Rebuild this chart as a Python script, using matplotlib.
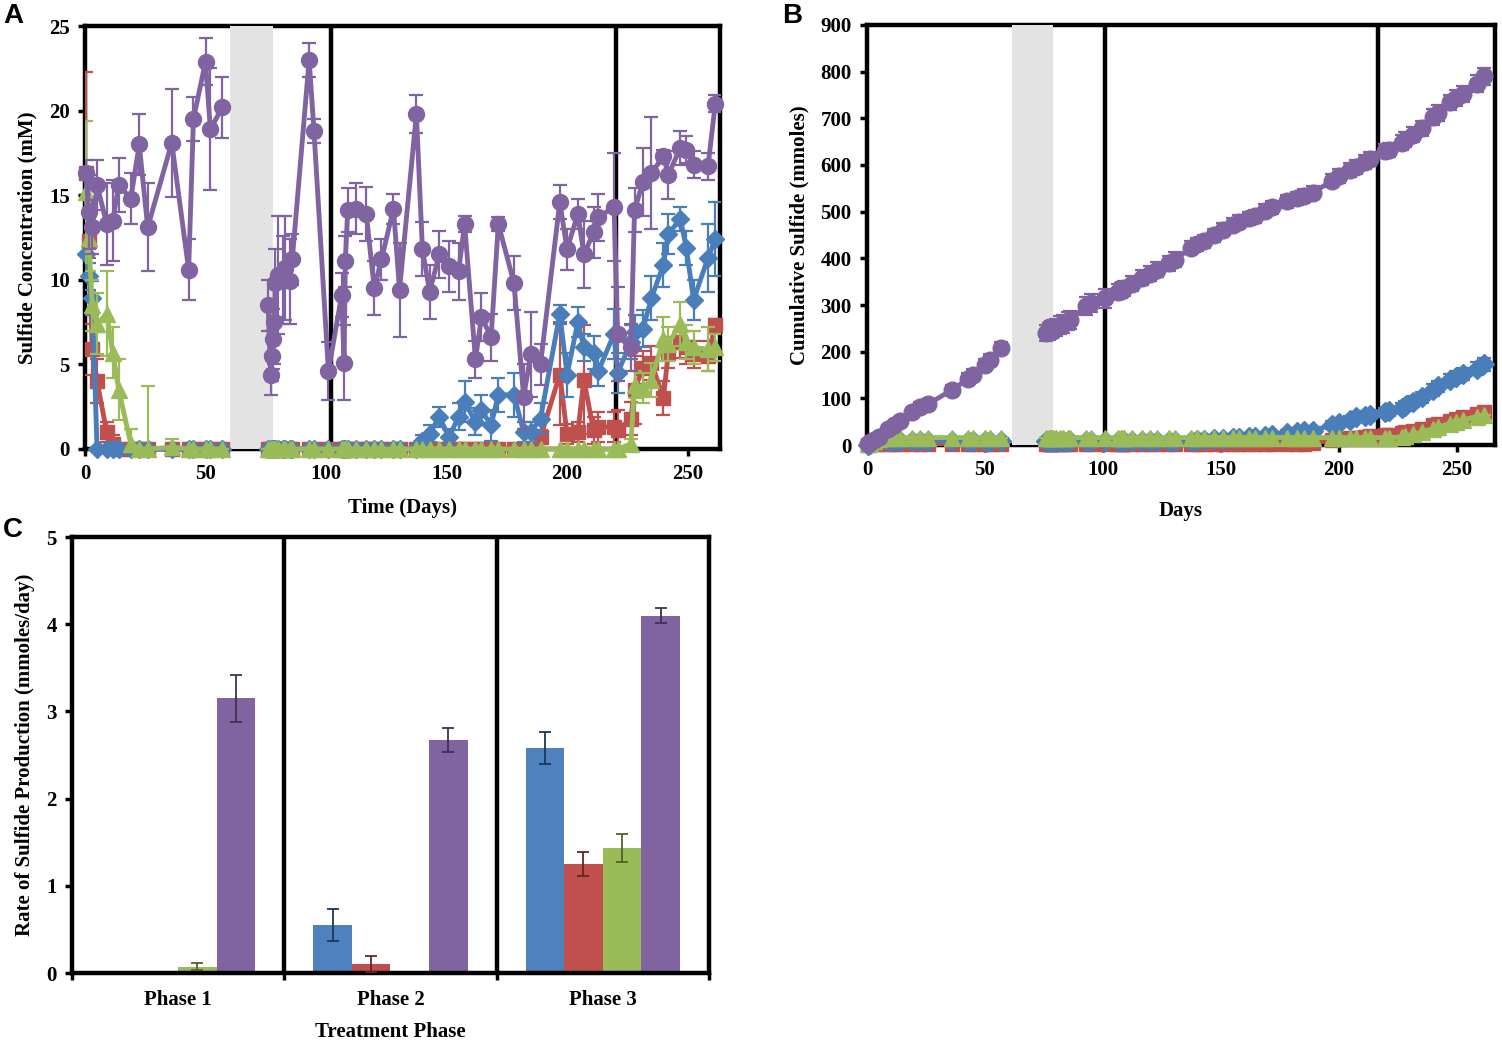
import numpy as np
import matplotlib.pyplot as plt

# ---------------- data ----------------
# Panel A: sulfide concentration (mM) vs time (days)
days_a = [0.5, 1.5, 3, 5, 9, 11.5, 14, 19, 22.5, 26, 36, 43, 45, 50, 52, 57,
          76, 77, 77.5, 78, 78.5, 79, 80, 82, 83, 85, 86, 93, 95, 101,
          106.5, 107.5, 108, 109, 112.5, 116.7, 120, 123, 128, 130.5,
          137.5, 140, 143, 147, 151, 155, 157.5, 162, 164.5, 168.5,
          171.5, 178, 182, 185, 189, 197, 200, 204.5, 207, 211,
          213, 219.5, 221, 226.5, 228, 231.5, 235, 240, 242, 247,
          249.5, 252.5, 258.5, 261.5]

purple_a = [16.3, 14.0, 13.1, 15.6, 13.3, 13.5, 15.6, 14.8, 18.0, 13.1, 18.1, 10.6, 19.5, 22.9, 18.9, 20.2,
            8.5, 4.4, 5.5, 6.5, 7.5, 9.8, 10.3, 10.0, 10.7, 9.9, 11.2, 23.0, 18.8, 4.6,
            9.1, 5.1, 11.1, 14.1, 14.2, 13.9, 9.5, 11.2, 14.2, 9.4,
            19.8, 11.8, 9.3, 11.5, 10.8, 10.5, 13.3, 5.3, 7.8, 6.6,
            13.3, 9.8, 3.1, 5.6, 5.0, 14.6, 11.8, 13.9, 11.5, 12.8,
            13.7, 14.3, 6.8, 6.0, 14.1, 15.8, 16.3, 17.3, 16.2, 17.8,
            17.7, 16.8, 16.7, 20.4]
purple_a_err = [0.8, 2.2, 1.6, 1.5, 2.4, 2.4, 1.6, 1.5, 1.8, 2.6, 3.2, 1.8, 1.3, 1.4, 3.6, 1.8,
                1.5, 1.2, 1.5, 1.8, 2.5, 2.0, 3.5, 2.6, 3.1, 2.5, 1.5, 1.0, 0.7, 1.7,
                1.3, 2.2, 1.5, 1.3, 1.5, 1.6, 1.6, 1.2, 0.9, 2.8,
                1.1, 1.6, 1.6, 1.4, 1.5, 1.7, 0.5, 1.1, 1.4, 1.4,
                0.4, 1.6, 1.9, 2.5, 1.2, 1.0, 1.2, 0.9, 2.0, 1.5,
                1.4, 3.2, 2.8, 1.4, 1.3, 2.0, 3.3, 0.4, 1.4, 1.0,
                0.8, 0.8, 0.8, 0.5]

blue_a = [11.5, 10.2, 8.9, 0, 0, 0, 0, 0, 0, 0, 0, 0, 0, 0, 0, 0,
          0, 0, 0, 0, 0, 0, 0, 0, 0, 0, 0, 0, 0, 0,
          0, 0, 0, 0, 0, 0, 0, 0, 0, 0,
          0.0, 0.5, 0.9, 1.9, 0.7, 1.9, 2.8, 1.6, 2.3, 1.4,
          3.2, 3.2, 1.0, 1.0, 1.8, 8.0, 4.4, 7.5, 6.0, 5.7,
          4.6, 6.8, 4.5, 6.3, 6.9, 7.1, 8.9, 10.9, 12.7, 13.6,
          11.9, 8.8, 11.3, 12.4]
blue_a_err = [0, 0.8, 1.0, 0, 0, 0, 0, 0, 0, 0, 0, 0, 0, 0, 0, 0,
              0, 0, 0, 0, 0, 0, 0, 0, 0, 0, 0, 0, 0, 0,
              0, 0, 0, 0, 0, 0, 0, 0, 0, 0,
              0, 0.3, 0.5, 0.6, 0.5, 0.8, 1.2, 0.8, 0.9, 0.9,
              1.0, 1.3, 0.6, 0.6, 0.9, 0.5, 1.3, 0.9, 0.8, 1.0,
              0.9, 1.5, 1.2, 1.0, 1.0, 1.1, 1.3, 1.3, 1.2, 0.7,
              1.0, 1.2, 2.0, 2.2]

red_a = [16.3, 12.3, 5.9, 4.0, 1.0, 0.3, 0, 0, 0, 0, 0, 0, 0, 0, 0, 0,
         0, 0, 0, 0, 0, 0, 0, 0, 0, 0, 0, 0, 0, 0,
         0, 0, 0, 0, 0, 0, 0, 0, 0, 0,
         0, 0, 0, 0, 0, 0, 0, 0, 0, 0,
         0, 0, 0, 0, 0.7, 4.4, 0.9, 1.0, 4.1, 1.1,
         1.3, 1.3, 1.1, 1.8, 3.5, 4.8, 5.1, 3.0, 5.7, 6.3,
         6.0, 5.6, 5.5, 7.3]
red_a_err = [6.0, 1.0, 1.5, 1.3, 0.6, 0.5, 0, 0, 0, 0, 0, 0, 0, 0, 0, 0,
             0, 0, 0, 0, 0, 0, 0, 0, 0, 0, 0, 0, 0, 0,
             0, 0, 0, 0, 0, 0, 0, 0, 0, 0,
             0, 0, 0, 0, 0, 0, 0, 0, 0, 0,
             0, 0, 0, 0, 0.4, 3.0, 0.6, 0.6, 3.2, 0.8,
             0.9, 0.9, 1.2, 1.0, 2.0, 1.0, 1.0, 1.0, 0.9, 0.9,
             1.0, 0.8, 0.9, 0.4]

green_a = [15.2, 12.5, 8.5, 7.4, 8.0, 5.7, 3.5, 0.3, 0, 0, 0.1, 0, 0, 0, 0, 0,
           0, 0, 0, 0, 0, 0, 0, 0, 0, 0, 0, 0, 0, 0,
           0, 0, 0, 0, 0, 0, 0, 0, 0, 0,
           0, 0, 0, 0, 0, 0, 0, 0, 0, 0,
           0, 0, 0, 0, 0, 0, 0, 0, 0, 0,
           0, 0, 0, 0.3, 3.8, 3.6, 4.1, 6.5, 6.2, 7.4,
           6.3, 6.0, 5.9, 6.0]
green_a_err = [4.2, 2.0, 1.5, 1.8, 2.5, 1.5, 1.8, 0.9, 0, 3.7, 0.5, 0, 0, 0, 0, 0,
               0, 0, 0, 0, 0, 0, 0, 0, 0, 0, 0, 0, 0, 0,
               0, 0, 0, 0, 0, 0, 0, 0, 0, 0,
               0, 0, 0, 0, 0, 0, 0, 0, 0, 0,
               0, 0, 0, 0, 0, 0, 0, 0, 0, 0,
               0, 0, 0, 0.3, 0.8, 0.9, 1.0, 1.3, 1.0, 1.3,
               1.0, 1.0, 1.3, 0.8]

# Panel B: cumulative sulfide (mmoles), same sampling days
purple_b = [2, 6, 11, 18, 35, 42, 51, 70, 82, 88, 118, 142, 150, 172, 182, 207,
            240, 243, 245, 247, 248, 250, 252, 257, 260, 265, 268, 298, 304, 314,
            328, 331, 333, 336, 346, 358, 367, 376, 389, 397,
            423, 430, 437, 449, 461, 472, 478, 486, 490, 502,
            509, 522, 529, 534, 541, 566, 576, 589, 596, 607,
            613, 630, 633, 648, 654, 665, 679, 703, 712, 734,
            743, 752, 774, 790]
purple_b_err = [3, 4, 5, 6, 8, 8, 9, 10, 10, 11, 11, 12, 12, 13, 13, 13,
                18, 18, 18, 18, 18, 18, 18, 19, 19, 19, 19, 20, 20, 20,
                16, 16, 16, 16, 16, 16, 16, 16, 16, 16,
                14, 14, 14, 14, 14, 14, 14, 14, 14, 14,
                14, 14, 14, 14, 14, 14, 15, 15, 15, 15,
                15, 15, 15, 16, 16, 16, 16, 17, 17, 17,
                17, 18, 18, 18]
blue_b = [1, 3, 6, 8, 9, 9, 9, 9, 9, 9, 9, 9, 9, 9, 9, 9,
          9, 9, 9, 9, 9, 9, 9, 9, 9, 9, 9, 9, 9, 9,
          9, 9, 9, 9, 9, 9, 9, 9, 9, 9,
          9, 10, 11, 12, 13, 14, 15, 17, 18, 19,
          21, 26, 28, 29, 31, 43, 47, 54, 59, 63,
          65, 70, 72, 80, 83, 93, 102, 118, 126, 140,
          146, 152, 163, 173]
blue_b_err = [0, 0, 1, 1, 1, 1, 1, 1, 1, 1, 1, 1, 1, 1, 1, 1,
              1, 1, 1, 1, 1, 1, 1, 1, 1, 1, 1, 1, 1, 1,
              1, 1, 1, 1, 1, 1, 1, 1, 1, 1,
              1, 2, 2, 3, 3, 3, 4, 4, 4, 5,
              5, 6, 6, 6, 7, 8, 8, 9, 9, 9,
              10, 10, 10, 11, 11, 11, 12, 12, 12, 13,
              13, 13, 14, 14]
red_b = [1, 2, 2, 3, 3, 3, 3, 3, 3, 3, 3, 3, 3, 3, 3, 3,
         3, 3, 3, 3, 3, 3, 3, 3, 3, 3, 3, 3, 3, 3,
         3, 3, 3, 3, 3, 3, 3, 3, 3, 3,
         3, 3, 3, 3, 3, 3, 3, 3, 3, 3,
         3, 3, 3, 3, 5, 10, 12, 14, 16, 18,
         19, 21, 22, 25, 27, 31, 35, 42, 46, 52,
         56, 59, 66, 70]
green_b = [2, 5, 9, 12, 15, 16, 16, 16, 16, 16, 16, 16, 16, 16, 16, 16,
           16, 16, 16, 16, 16, 16, 16, 16, 16, 16, 16, 16, 16, 16,
           16, 16, 16, 16, 16, 16, 16, 16, 16, 16,
           16, 16, 16, 16, 16, 16, 16, 16, 16, 16,
           16, 16, 16, 16, 16, 16, 16, 16, 16, 16,
           16, 16, 16, 17, 19, 23, 27, 35, 38, 46,
           50, 54, 61, 65]

# grey band: reactor period without sampling
band_a = (60, 78)
band_b = (61.5, 79)
phase_lines_a = [102, 220.5]
phase_lines_b = [101, 216.5]

# Panel C: rate of sulfide production (mmoles/day) per treatment phase
phases = ['Phase 1', 'Phase 2', 'Phase 3']
rate_blue = [0.0, 0.55, 2.58]
rate_blue_err = [0.0, 0.18, 0.18]
rate_red = [0.02, 0.10, 1.25]
rate_red_err = [0.0, 0.09, 0.14]
rate_green = [0.07, 0.0, 1.43]
rate_green_err = [0.04, 0.0, 0.16]
rate_purple = [3.15, 2.67, 4.10]
rate_purple_err = [0.27, 0.14, 0.09]

# ---------------- style ----------------
c_blue = '#4a7ebb'
c_red = '#c0504d'
c_green = '#9bbb59'
c_purple = '#8064a2'
plt.rcParams['font.family'] = 'Liberation Serif'
plt.rcParams['font.weight'] = 'bold'
FS = 15

fig = plt.figure(figsize=(15.02, 10.41), dpi=100)
axA = fig.add_axes([0.0566, 0.5687, 0.4228, 0.4063])
axB = fig.add_axes([0.5772, 0.5725, 0.4180, 0.4035])
axC = fig.add_axes([0.0479, 0.0653, 0.4241, 0.4188])


def frame(ax):
    for s in ax.spines.values():
        s.set_linewidth(3.2)
    ax.tick_params(direction='out', width=2.5, length=5, labelsize=FS, pad=6)
    for lab in ax.get_xticklabels() + ax.get_yticklabels():
        lab.set_fontweight('bold')


def series(ax, x, y, err, color, marker, ms, z, band):
    x = np.array(x)
    y = np.array(y, dtype=float)
    ax.errorbar(x, y, yerr=err, fmt='none', ecolor=color, elinewidth=1.6,
                capsize=5, capthick=1.6, zorder=z)
    # line is broken where sampling stopped
    for m in (x < band[0], x >= band[0]):
        ax.plot(x[m], y[m], color=color, marker=marker, markersize=ms,
                linewidth=3.5, zorder=z, clip_on=False)


# ---------------- panel A ----------------
axA.axvspan(*band_a, color='#e3e3e3', zorder=2.6, lw=0)
for d in phase_lines_a:
    axA.axvline(d, color='black', lw=3.2, zorder=1)
series(axA, days_a, red_a, red_a_err, c_red, 's', 10, 3, band_a)
series(axA, days_a, blue_a, blue_a_err, c_blue, 'D', 9, 4, band_a)
series(axA, days_a, green_a, green_a_err, c_green, '^', 11, 5, band_a)
series(axA, days_a, purple_a, purple_a_err, c_purple, 'o', 11.5, 6, band_a)
axA.set_xlim(0, 263.5)
axA.set_ylim(0, 25)
axA.set_xticks([0, 50, 100, 150, 200, 250])
axA.set_yticks([0, 5, 10, 15, 20, 25])
frame(axA)
axA.set_xlabel('Time (Days)', fontsize=FS, fontweight='bold', labelpad=10)
axA.set_ylabel('Sulfide Concentration (mM)', fontsize=FS, fontweight='bold', labelpad=8)

# ---------------- panel B ----------------
axB.axvspan(*band_b, color='#e3e3e3', zorder=2.6, lw=0)
for d in phase_lines_b:
    axB.axvline(d, color='black', lw=3.2, zorder=1)
series(axB, days_a, red_b, [0] * len(red_b), c_red, 's', 10, 3, band_b)
series(axB, days_a, blue_b, blue_b_err, c_blue, 'D', 10, 4, band_b)
series(axB, days_a, green_b, [0] * len(green_b), c_green, '^', 11, 5, band_b)
series(axB, days_a, purple_b, purple_b_err, c_purple, 'o', 12, 6, band_b)
axB.set_xlim(0, 266)
axB.set_ylim(0, 900)
axB.set_xticks([0, 50, 100, 150, 200, 250])
axB.set_yticks(range(0, 901, 100))
frame(axB)
axB.set_xlabel('Days', fontsize=FS, fontweight='bold', labelpad=15)
axB.set_ylabel('Cumulative Sulfide (mmoles)', fontsize=FS, fontweight='bold', labelpad=8)

# ---------------- panel C ----------------
xc = np.arange(1, len(phases) + 1)
bw = 1 / 5.5
groups = [(rate_blue, rate_blue_err, '#4f81bd', '#17375e'),
          (rate_red, rate_red_err, c_red, '#632523'),
          (rate_green, rate_green_err, c_green, '#4f6228'),
          (rate_purple, rate_purple_err, c_purple, '#3f3151')]
for i, (vals, errs, col, ecol) in enumerate(groups):
    pos = xc + (i - 1.5) * bw
    axC.bar(pos, vals, width=bw, color=col, zorder=2)
    for p, v, e in zip(pos, vals, errs):
        if v > 0 and e > 0:
            axC.errorbar(p, v, yerr=e, fmt='none', ecolor=ecol, elinewidth=1.3,
                         capsize=4, capthick=1.3, zorder=3)
axC.axvline(1.5, color='black', lw=3.2)
axC.axvline(2.5, color='black', lw=3.2)
axC.set_xlim(0.5, 3.5)
axC.set_ylim(0, 5)
axC.set_yticks([0, 1, 2, 3, 4, 5])
axC.set_xticks([0.5, 1.5, 2.5, 3.5])
axC.set_xticklabels([])
axC.set_xticks(xc, minor=True)
axC.set_xticklabels(phases, minor=True)
frame(axC)
axC.tick_params(axis='x', which='minor', length=0, labelsize=FS, pad=12)
for lab in axC.get_xticklabels(minor=True):
    lab.set_fontweight('bold')
axC.set_xlabel('Treatment Phase', fontsize=FS, fontweight='bold', labelpad=9)
axC.set_ylabel('Rate of Sulfide Production (mmoles/day)', fontsize=FS,
               fontweight='bold', labelpad=8)

# panel letters
for txt, x, y in [('A', 0.002, 0.997), ('B', 0.521, 0.997), ('C', 0.002, 0.503)]:
    fig.text(x, y, txt, fontsize=20, fontweight='bold', family='Liberation Sans',
             va='top', ha='left')

fig.savefig('out.png', dpi=100)
